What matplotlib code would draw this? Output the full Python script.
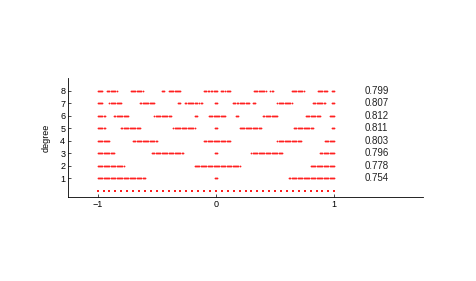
import numpy as np
import matplotlib
matplotlib.use("Agg")
import matplotlib.pyplot as plt

plt.rcParams['font.family'] = ['Liberation Sans', 'DejaVu Sans']

# x-ranges (in [-1, 1]) where dots appear for each degree, sampled on a 0.01 grid
grid_step = 0.01
degree_intervals = {
    1: [(-1, -0.60), (-0.01, 0.01), (0.62, 1.0)],
    2: [(-1, -0.78), (-0.18, 0.20), (0.80, 1.0)],
    3: [(-1, -0.86), (-0.54, -0.28), (-0.01, 0.01), (0.30, 0.56), (0.88, 1.0)],
    4: [(-1, -0.90), (-0.70, -0.50), (-0.10, 0.12), (0.52, 0.72), (0.92, 1.0)],
    5: [(-1, -0.94), (-0.80, -0.64), (-0.36, -0.18), (-0.01, 0.01), (0.20, 0.38),
        (0.66, 0.82), (0.98, 1.0)],
    6: [(-1, -0.94), (-0.86, -0.74), (-0.52, -0.38), (-0.18, -0.16), (-0.06, 0.08),
        (0.17, 0.19), (0.40, 0.52), (0.76, 0.88), (0.96, 1.0)],
    7: [(-1, -0.96), (-0.90, -0.80), (-0.64, -0.52), (-0.32, -0.30), (-0.26, -0.16),
        (-0.14, -0.12), (-0.01, 0.01), (0.14, 0.16), (0.18, 0.28), (0.31, 0.33),
        (0.52, 0.64), (0.82, 0.92), (0.98, 1.0)],
    8: [(-1, -0.96), (-0.92, -0.84), (-0.72, -0.62), (-0.46, -0.44), (-0.40, -0.30),
        (-0.10, -0.06), (-0.04, -0.02), (-0.01, 0.01), (0.04, 0.06), (0.08, 0.12),
        (0.32, 0.42), (0.46, 0.48), (0.64, 0.74), (0.86, 0.94), (0.98, 1.0)],
}
# degree-0 row: the sample nodes
base_nodes = np.linspace(-1, 1, 41)
degree_scores = {8: "0.799", 7: "0.807", 6: "0.812", 5: "0.811",
                 4: "0.803", 3: "0.796", 2: "0.778", 1: "0.754"}
x_ticks = [-1, 0, 1]
y_ticks = [1, 2, 3, 4, 5, 6, 7, 8]

fig = plt.figure(figsize=(4.76, 2.81), dpi=100)
ax = fig.add_axes([0.1429, 0.299, 0.7458, 0.4235])

red = '#ff2020'
ax.plot(base_nodes, np.zeros_like(base_nodes), 's', color=red, ms=1.6, mew=0)
for deg, ivs in degree_intervals.items():
    xs = []
    for a, b in ivs:
        i0, i1 = int(round(a / grid_step)), int(round(b / grid_step))
        xs.extend(np.arange(i0, i1 + 1) * grid_step)
    xs = np.array(xs)
    ax.plot(xs, np.full_like(xs, deg), 'o', color=red, ms=1.3, mew=0)
    ax.text(1.26, deg, degree_scores[deg], fontsize=7, va='center', ha='left',
            color='#222222')

ax.set_xlim(-1.25, 1.75)
ax.set_ylim(-0.5, 9)
ax.set_xticks(x_ticks)
ax.set_xticklabels(['\u22121', '0', '1'])
ax.set_yticks(y_ticks)
ax.tick_params(direction='in', length=2, width=0.5, labelsize=6.5, pad=2)
for s in ['top', 'right']:
    ax.spines[s].set_visible(False)
for s in ['left', 'bottom']:
    ax.spines[s].set_linewidth(0.6)
ax.set_ylabel('degree', fontsize=6.5, labelpad=7)

fig.savefig('out.png', dpi=100)
